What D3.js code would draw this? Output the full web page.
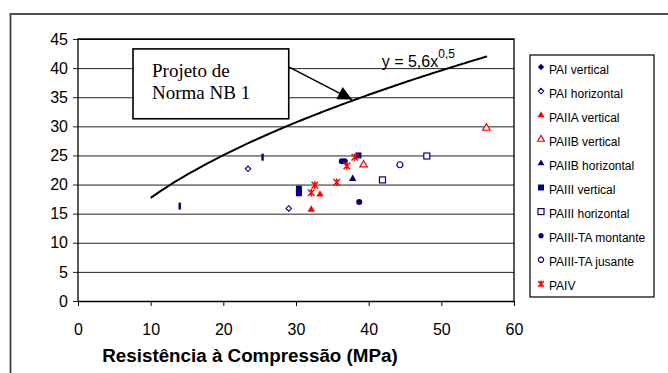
<!DOCTYPE html>
<html>
<head>
<meta charset="utf-8">
<script src="https://cdn.jsdelivr.net/npm/d3@7"></script>
<style>
  body { margin: 0; background: #fff; }
  text { font-family: "Liberation Sans", Arial, sans-serif; }
</style>
</head>
<body>
<div id="chart"></div>
<script>
// values: [compressive strength, value]
const paiVertical = [[14.0, 16.3], [25.4, 24.7]];
const paiHorizontal = [[23.4, 22.7], [29.0, 15.9]];
const paiiaVertical = [[32.1, 15.7], [33.3, 18.3]];
const paiibVertical = [[39.3, 23.4], [56.2, 29.7]];
const paiibHorizontal = [[37.8, 21.0]];
const paiiiVertical = [[30.4, 18.5], [30.4, 19.3], [38.6, 25.0]];
const paiiiHorizontal = [[41.9, 20.8], [48.0, 24.9]];
const paiiiTaMontante = [[36.3, 24.0], [36.7, 24.0], [38.7, 17.0]];
const paiiiTaJusante = [[44.3, 23.4]];
const paiv = [[32.1, 18.6], [32.6, 19.9], [35.6, 20.4], [37.0, 23.2], [38.1, 24.7]];

const seriesNames = ["PAI vertical", "PAI horizontal", "PAIIA vertical", "PAIIB vertical",
  "PAIIB horizontal", "PAIII vertical", "PAIII horizontal", "PAIII-TA montante",
  "PAIII-TA jusante", "PAIV"];
const seriesData = [paiVertical, paiHorizontal, paiiaVertical, paiibVertical, paiibHorizontal,
  paiiiVertical, paiiiHorizontal, paiiiTaMontante, paiiiTaJusante, paiv];

const xTicks = [0, 10, 20, 30, 40, 50, 60];
const yTicks = [0, 5, 10, 15, 20, 25, 30, 35, 40, 45];

// trend line  y = 5,6 x^0,5
const coef = 5.6, expo = 0.5;
const curveFrom = 10, curveTo = 56.3;

const navy = "#000080", red = "#ff0000";

// marker style per series
const styles = [
  { shape: "bar", color: navy, fill: true },
  { shape: "diamond", color: navy, fill: false },
  { shape: "triangle", color: red, fill: true },
  { shape: "triangle", color: red, fill: false },
  { shape: "triangle", color: navy, fill: true },
  { shape: "square", color: navy, fill: true },
  { shape: "square", color: navy, fill: false },
  { shape: "circle", color: navy, fill: true },
  { shape: "circle", color: navy, fill: false },
  { shape: "star", color: red, fill: false }
];

var W = 668, H = 373;
var margin = { top: 39, bottom: 72, left: 78, right: 154 };
var width = W - margin.left - margin.right;
var height = H - margin.top - margin.bottom;

var svg = d3.select("#chart").append("svg")
  .attr("width", W).attr("height", H);

// outer chart border
svg.append("rect")
  .attr("x", 10.5).attr("y", 14).attr("width", 660).attr("height", 380)
  .attr("fill", "none").attr("stroke", "#404040").attr("stroke-width", 1.8);

const g = svg.append("g").attr("transform", `translate(${margin.left},${margin.top})`);

const xscale = d3.scaleLinear().domain([0, 60]).range([0, width]);
const yscale = d3.scaleLinear().domain([0, 45]).range([height, 0]);

// gridlines + y axis
const yaxis = d3.axisLeft(yscale).tickValues(yTicks).tickSize(5).tickPadding(5);
const g_yaxis = g.append("g").attr("class", "y axis").call(yaxis);
g_yaxis.select(".domain").remove();
g_yaxis.selectAll(".tick line").attr("x2", width).attr("x1", -5).attr("stroke", "#222");
g_yaxis.selectAll("text").attr("font-size", 16).attr("fill", "#000")
  .style("font-family", "'Liberation Sans', Arial, sans-serif");

const xaxis = d3.axisBottom(xscale).tickValues(xTicks).tickSize(5).tickPadding(18).tickSizeOuter(0);
const g_xaxis = g.append("g").attr("class", "x axis")
  .attr("transform", `translate(0,${height})`).call(xaxis);
g_xaxis.select(".domain").attr("stroke", "#000").attr("stroke-width", 1.3);
g_xaxis.selectAll(".tick line").attr("stroke", "#000");
g_xaxis.selectAll("text").attr("font-size", 16).attr("fill", "#000")
  .style("font-family", "'Liberation Sans', Arial, sans-serif");

// plot frame (left, top, right)
g.append("path")
  .attr("d", `M0,${height}V0H${width}V${height}`)
  .attr("fill", "none").attr("stroke", "#000").attr("stroke-width", 1.3);

// x title
svg.append("text")
  .attr("x", 250).attr("y", 362)
  .attr("text-anchor", "middle").attr("font-weight", "bold").attr("font-size", 18.8)
  .text("Resistência à Compressão (MPa)");

// trend curve
const curvePts = d3.range(curveFrom, curveTo + 0.001, 0.5).concat([curveTo])
  .map((x) => [x, coef * Math.pow(x, expo)]);
g.append("path")
  .datum(curvePts)
  .attr("fill", "none").attr("stroke", "#000").attr("stroke-width", 2)
  .attr("d", d3.line().x((d) => xscale(d[0])).y((d) => yscale(d[1])).curve(d3.curveMonotoneX));

// equation label
const eq = g.append("text")
  .attr("x", xscale(41.8)).attr("y", yscale(40.2)).attr("font-size", 16);
eq.append("tspan").text("y = 5,6x");
eq.append("tspan").attr("font-size", 12).attr("dy", -9).text("0,5");

// annotation box + arrow
const box = { x0: 7.57, x1: 29.0, y0: 43.3, y1: 31.3 };
svg.append("defs").append("marker")
  .attr("id", "arrow").attr("viewBox", "0 0 10 10").attr("refX", 10).attr("refY", 5)
  .attr("markerWidth", 18).attr("markerHeight", 14).attr("markerUnits", "userSpaceOnUse")
  .attr("orient", "auto")
  .append("path").attr("d", "M0,0L10,5L0,10Z").attr("fill", "#000");
g.append("line")
  .attr("x1", xscale(box.x1)).attr("y1", yscale(40.2))
  .attr("x2", xscale(37.7)).attr("y2", yscale(34.6))
  .attr("stroke", "#000").attr("stroke-width", 1.5).attr("marker-end", "url(#arrow)");
g.append("rect")
  .attr("x", xscale(box.x0)).attr("y", yscale(box.y0))
  .attr("width", xscale(box.x1) - xscale(box.x0)).attr("height", yscale(box.y1) - yscale(box.y0))
  .attr("fill", "#fff").attr("stroke", "#000").attr("stroke-width", 1.6);
const note = g.append("text")
  .attr("x", xscale(box.x0) + 19).attr("y", yscale(box.y0) + 28)
  .style("font-family", "'Liberation Serif', 'Times New Roman', serif").attr("font-size", 19);
note.append("tspan").text("Projeto de");
note.append("tspan").attr("x", xscale(box.x0) + 19).attr("dy", 22).text("Norma NB 1");

// marker drawing
function drawMarker(sel, st, inLegend) {
  const stroke = st.color, fill = st.fill ? st.color : "#fff";
  if (st.shape === "bar" && !inLegend) {
    sel.append("rect").attr("x", -1.2).attr("y", -3.5).attr("width", 2.4).attr("height", 7)
      .attr("fill", stroke);
  } else if (st.shape === "bar" || st.shape === "diamond") {
    const r = st.fill ? 3.2 : 2.7;
    sel.append("path").attr("d", `M0,${-r}L${r},0L0,${r}L${-r},0Z`)
      .attr("fill", fill).attr("stroke", stroke).attr("stroke-width", st.fill ? 0 : 1.1);
  } else if (st.shape === "triangle") {
    sel.append("path").attr("d", d3.symbol(d3.symbolTriangle, inLegend ? 20 : 24)())
      .attr("fill", fill).attr("stroke", stroke).attr("stroke-width", st.fill ? 0 : 1.2);
  } else if (st.shape === "square") {
    const s = 6;
    sel.append("rect").attr("x", -s / 2).attr("y", -s / 2).attr("width", s).attr("height", s)
      .attr("fill", fill).attr("stroke", stroke).attr("stroke-width", st.fill ? 0 : 1.2);
  } else if (st.shape === "circle") {
    sel.append("circle").attr("r", inLegend ? 2.6 : 3)
      .attr("fill", fill).attr("stroke", stroke).attr("stroke-width", st.fill ? 0 : 1.2);
  } else if (st.shape === "star") {
    const r = inLegend ? 2.8 : 3.3;
    sel.append("path")
      .attr("d", `M${-r},${-r}L${r},${r}M${-r},${r}L${r},${-r}M0,${-r - 0.5}V${r + 0.5}`)
      .attr("fill", "none").attr("stroke", stroke).attr("stroke-width", 1.5);
  }
}

seriesData.forEach((pts, i) => {
  g.append("g").selectAll("g")
    .data(pts)
    .join("g")
    .attr("transform", (d) => `translate(${xscale(d[0])},${yscale(d[1])})`)
    .each(function () { drawMarker(d3.select(this), styles[i], false); });
});

// legend
const legend = svg.append("g").attr("transform", "translate(530,55)");
legend.append("rect").attr("width", 124).attr("height", 242)
  .attr("fill", "#fff").attr("stroke", "#000").attr("stroke-width", 1.2);
const items = legend.selectAll("g.item")
  .data(seriesNames)
  .join("g").attr("class", "item")
  .attr("transform", (d, i) => `translate(11,${14 + i * 24.1})`);
items.each(function (d, i) { drawMarker(d3.select(this).append("g").attr("transform", "translate(0,-2)"), styles[i], true); });
items.append("text").attr("x", 8).attr("y", 4.5).attr("font-size", 12).attr("fill", "#000").text((d) => d);
</script>
</body>
</html>
